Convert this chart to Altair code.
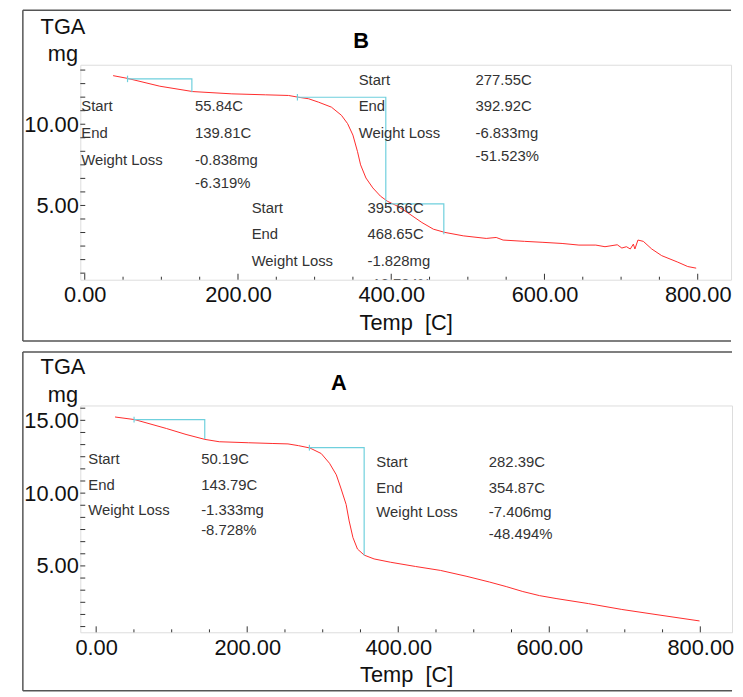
import altair as alt
import pandas as pd

FONT = "Liberation Sans, Arial, sans-serif"
RED = "#ff2a2a"
CYAN = "#6fd0dd"
INK = "#111111"

# ---------------- Panel B (top) ----------------
b_temp = [37, 56, 98, 141, 192, 236, 266, 279, 292, 305, 322, 335, 343, 350, 356, 360,
          367, 376, 386, 395, 408, 421, 440, 455, 470, 494, 524, 537, 546, 574, 598, 623,
          645, 667, 679, 695, 701, 707, 712, 716, 718, 722, 729, 740, 753, 774, 787, 798]
b_mass = [12.99, 12.82, 12.34, 12.01, 11.87, 11.81, 11.77, 11.66, 11.57, 11.36, 11.05, 10.55,
          10.04, 9.33, 8.31, 7.50, 6.69, 6.08, 5.57, 5.26, 4.96, 4.57, 3.95, 3.54, 3.34, 3.13,
          2.97, 3.03, 2.87, 2.79, 2.73, 2.66, 2.56, 2.56, 2.46, 2.58, 2.38, 2.46, 2.32, 2.62,
          2.32, 2.87, 2.79, 2.32, 1.91, 1.51, 1.24, 1.14]
# step analysis lines: (start, end, level, drop-to)
b_step_start = [55.84, 277.55, 395.66]
b_step_end = [139.81, 392.92, 468.65]
b_step_level = [12.79, 11.66, 5.10]
b_step_drop = [11.97, 5.06, 3.23]
b_marker_temp = [55.84, 277.55]
b_marker_mass = [12.79, 11.66]
b_labels_x = [-4.5, 357.5, 217.8]
b_values_x = [144, 510, 369]
b_rows_y = [[11.10, 9.45, 7.80, 6.40], [12.74, 11.10, 9.45, 8.05], [4.82, 3.23, 1.59, 0.18]]
b_values = [["55.84C", "139.81C", "-0.838mg", "-6.319%"],
            ["277.55C", "392.92C", "-6.833mg", "-51.523%"],
            ["395.66C", "468.65C", "-1.828mg", "-13.784%"]]
b_xdomain = [-5.8, 843.5]
b_ydomain = [0.43, 13.66]
b_yticks = [5, 10]

# ---------------- Panel A (bottom) ----------------
a_temp = [25, 51, 93, 119, 144, 163, 202, 233, 254, 268, 283, 298, 309, 318, 324, 331, 335,
          340, 346, 355, 368, 390, 423, 456, 491, 521, 543, 565, 587, 609, 652, 696, 740, 799]
a_mass = [15.23, 15.05, 14.44, 14.03, 13.69, 13.53, 13.46, 13.41, 13.38, 13.26, 13.10, 12.72,
          12.05, 11.26, 10.35, 9.22, 8.09, 6.95, 6.16, 5.74, 5.48, 5.25, 4.96, 4.69, 4.28,
          3.89, 3.58, 3.24, 2.96, 2.76, 2.41, 2.01, 1.67, 1.22]
a_step_start = [50.19, 282.39]
a_step_end = [143.79, 354.87]
a_step_level = [15.05, 13.12]
a_step_drop = [13.71, 5.71]
a_marker_temp = [50.19, 282.39]
a_marker_mass = [15.05, 13.12]
a_labels_x = [-10.5, 371]
a_values_x = [139, 520]
a_rows_y = [[12.33, 10.56, 8.86, 7.43], [12.12, 10.35, 8.72, 7.16]]
a_values = [["50.19C", "143.79C", "-1.333mg", "-8.728%"],
            ["282.39C", "354.87C", "-7.406mg", "-48.494%"]]
a_xdomain = [-21.0, 842]
a_ydomain = [0.44, 16.02]
a_yticks = [5, 10, 15]

row_labels = ["Start", "End", "Weight Loss"]
x_major = [0, 200, 400, 600, 800]
x_minor = [50, 100, 150, 250, 300, 350, 450, 500, 550, 650, 700, 750]


def panel(temp, mass, s_start, s_end, s_level, s_drop, m_temp, m_mass,
          lab_x, val_x, rows_y, values, xdom, ydom, yticks, title, title_dx, w, h,
          box_top, box_bottom):
    xs = alt.Scale(domain=xdom, nice=False, zero=False)
    ys = alt.Scale(domain=ydom, nice=False, zero=False)
    xaxis = alt.Axis(values=x_major, format=".2f", title="Temp \u00a0[C]", ticks=False,
                     domain=False, grid=False, labelFontSize=22, titleFontSize=22,
                     titleFontWeight="normal", labelPadding=5, titlePadding=7,
                     labelColor=INK, titleColor=INK, labelFont=FONT, titleFont=FONT)
    yaxis = alt.Axis(values=yticks, format=".2f", title=["TGA", "mg"], titleAngle=0,
                     titleAlign="center", titleBaseline="bottom", titleX=-18, titleY=-27,
                     titleLineHeight=28, ticks=False, domain=False, grid=False,
                     labelFontSize=22, titleFontSize=22, titleFontWeight="normal",
                     labelPadding=2, labelColor=INK, titleColor=INK, labelFont=FONT,
                     titleFont=FONT)
    X = lambda f: alt.X(f, type="quantitative", scale=xs)
    Y = lambda f: alt.Y(f, type="quantitative", scale=ys)

    curve_df = pd.DataFrame({"temp": temp, "mass": mass})
    curve = alt.Chart(curve_df).mark_line(color=RED, strokeWidth=1, clip=True).encode(
        x=alt.X("temp:Q", scale=xs, axis=xaxis),
        y=alt.Y("mass:Q", scale=ys, axis=yaxis),
    )

    rows = []
    for i in range(len(s_start)):
        rows += [{"step": i, "ord": 0, "temp": s_start[i], "mass": s_level[i]},
                 {"step": i, "ord": 1, "temp": s_end[i], "mass": s_level[i]},
                 {"step": i, "ord": 2, "temp": s_end[i], "mass": s_drop[i]}]
    steps = alt.Chart(pd.DataFrame(rows)).mark_line(color=CYAN, strokeWidth=1.2).encode(
        x=X("temp"), y=Y("mass"), detail="step:N", order="ord:Q")

    mk = pd.DataFrame({"temp": m_temp, "mass": [m - 0.2 for m in m_mass],
                       "mass2": [m + 0.2 for m in m_mass]})
    markers = alt.Chart(mk).mark_rule(color=CYAN, strokeWidth=1.2).encode(
        x=X("temp"), y=Y("mass"), y2="mass2:Q")

    trows = []
    for g in range(len(lab_x)):
        for r in range(3):
            trows.append({"temp": lab_x[g], "mass": rows_y[g][r], "txt": row_labels[r]})
        for r in range(4):
            trows.append({"temp": val_x[g], "mass": rows_y[g][r], "txt": values[g][r]})
    texts = alt.Chart(pd.DataFrame(trows)).mark_text(
        align="left", baseline="middle", fontSize=15, font=FONT, color="#333333", clip=True
    ).encode(x=X("temp"), y=Y("mass"), text="txt:N")

    xmaj = alt.Chart(pd.DataFrame({"temp": x_major})).mark_rule(color="#333333").encode(
        x=X("temp"), y=alt.value(h), y2=alt.value(h - 6))
    xmin = alt.Chart(pd.DataFrame({"temp": x_minor})).mark_rule(color="#333333").encode(
        x=X("temp"), y=alt.value(h), y2=alt.value(h - 3))
    ytick_vals = [k * 5 / 6 for k in range(1, 20) if ydom[0] < k * 5 / 6 < ydom[1]]
    ytk = alt.Chart(pd.DataFrame({"mass": ytick_vals})).mark_rule(color="#333333").encode(
        y=Y("mass"), x=alt.value(0), x2=alt.value(5))

    # surrounding frame of the figure panel (decoration): left, top and bottom edges
    one = pd.DataFrame({"f": [0]})
    fstyle = dict(color="#555555", strokeWidth=1.5)
    f_left = alt.Chart(one).mark_rule(**fstyle).encode(
        x=alt.value(-58), y=alt.value(box_top), y2=alt.value(h + box_bottom))
    f_top = alt.Chart(one).mark_rule(**fstyle).encode(
        x=alt.value(-58), x2=alt.value(w), y=alt.value(box_top))
    f_bot = alt.Chart(one).mark_rule(**fstyle).encode(
        x=alt.value(-58), x2=alt.value(w), y=alt.value(h + box_bottom))

    return alt.layer(curve, steps, markers, texts, xmaj, xmin, ytk,
                     f_left, f_top, f_bot).properties(
        width=w, height=h,
        title=alt.Title(title, fontSize=22, fontWeight="bold", font=FONT, color="#000000",
                        anchor="middle", frame="group", dx=title_dx, offset=-44),
    )


top = panel(b_temp, b_mass, b_step_start, b_step_end, b_step_level, b_step_drop,
            b_marker_temp, b_marker_mass, b_labels_x, b_values_x, b_rows_y, b_values,
            b_xdomain, b_ydomain, b_yticks, "B", -45, 657, 217, -55, 62)
bottom = panel(a_temp, a_mass, a_step_start, a_step_end, a_step_level, a_step_drop,
               a_marker_temp, a_marker_mass, a_labels_x, a_values_x, a_rows_y, a_values,
               a_xdomain, a_ydomain, a_yticks, "A", -68, 658, 229, -54, 59)

chart = alt.vconcat(top, bottom, spacing=7).properties(
    padding={"left": 13, "top": -3, "right": 0, "bottom": 0}
).configure_view(stroke="#333333", strokeWidth=1).configure(background="white")

chart.save("out.html", embed_options={"renderer": "svg", "actions": False})
